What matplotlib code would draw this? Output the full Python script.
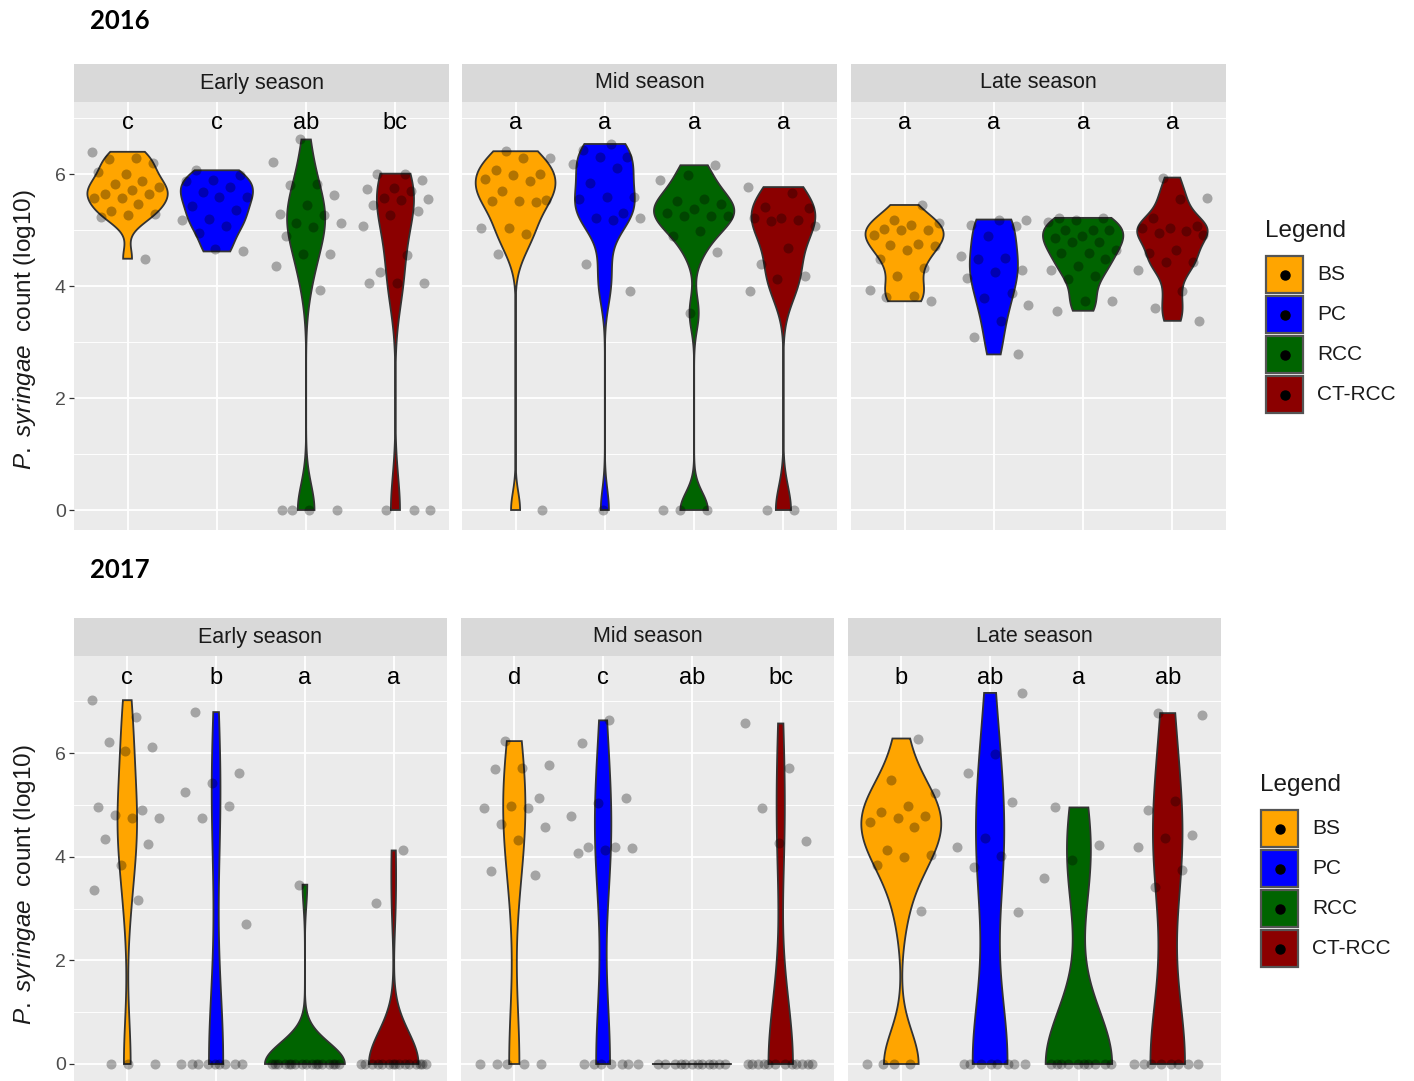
import numpy as np
import matplotlib.pyplot as plt
from matplotlib.patches import Rectangle

plt.rcParams['font.family'] = ['Liberation Sans', 'DejaVu Sans']
plt.rcParams['mathtext.fontset'] = 'custom'
plt.rcParams['mathtext.it'] = 'Liberation Sans:italic'
plt.rcParams['mathtext.rm'] = 'Liberation Sans'

groups = ['BS', 'PC', 'RCC', 'CT-RCC']
seasons = ['Early season', 'Mid season', 'Late season']

bs_2016_early = [6.40, 6.29, 6.27, 6.20, 6.01, 6.04, 5.88, 5.83, 5.77, 5.72, 5.64, 5.64,
                 5.57, 5.58, 5.46, 5.34, 5.28, 5.27, 5.23, 4.49]
pc_2016_early = [6.07, 5.98, 5.89, 5.88, 5.77, 5.68, 5.59, 5.59, 5.44, 5.36, 5.20, 5.18,
                 5.07, 4.95, 4.62, 4.67]
rcc_2016_early = [6.62, 6.22, 5.82, 5.80, 5.62, 5.45, 5.28, 5.27, 5.13, 5.12, 5.05, 4.90,
                  4.58, 4.58, 4.36, 3.93, 0, 0, 0, 0]
ct_2016_early = [6.01, 6.01, 5.89, 5.76, 5.73, 5.70, 5.57, 5.55, 5.54, 5.45, 5.34, 5.27,
                 5.07, 4.56, 4.25, 4.06, 4.06, 4.06, 0, 0, 0]

bs_2016_mid = [6.41, 6.29, 6.29, 6.07, 6.00, 5.98, 5.91, 5.88, 5.70, 5.54, 5.52, 5.52,
               5.50, 5.04, 5.04, 4.94, 4.58, 0]
pc_2016_mid = [6.54, 6.43, 6.31, 6.31, 6.19, 6.11, 5.85, 5.59, 5.59, 5.55, 5.31, 5.22,
               5.21, 5.19, 4.40, 3.92, 0]
rcc_2016_mid = [6.16, 5.98, 5.89, 5.55, 5.52, 5.46, 5.37, 5.31, 5.26, 5.26, 5.25, 4.99,
                4.89, 4.61, 3.52, 0, 0, 0]
ct_2016_mid = [5.77, 5.67, 5.42, 5.40, 5.22, 5.22, 5.18, 5.16, 5.07, 4.68, 4.40, 4.18,
               4.13, 3.91, 0, 0]

bs_2016_late = [5.45, 5.18, 5.12, 5.10, 5.02, 5.01, 5.01, 4.92, 4.76, 4.74, 4.71, 4.64,
                4.48, 4.33, 4.19, 3.93, 3.83, 3.80, 3.73]
pc_2016_late = [5.19, 5.19, 5.10, 5.07, 4.90, 4.53, 4.50, 4.48, 4.28, 4.25, 4.15, 3.88,
                3.79, 3.67, 3.38, 3.09, 2.78]
rcc_2016_late = [5.22, 5.22, 5.18, 5.14, 5.00, 5.00, 5.01, 4.90, 4.86, 4.79, 4.79, 4.64,
                 4.59, 4.59, 4.48, 4.36, 4.29, 4.19, 4.12, 3.74, 3.74, 3.56]
ct_2016_late = [5.94, 5.57, 5.56, 5.22, 5.08, 5.04, 5.04, 4.98, 4.95, 4.92, 4.65, 4.59,
                4.43, 4.43, 4.28, 3.91, 3.61, 3.38]

bs_2017_early = [7.02, 6.69, 6.21, 6.11, 6.03, 4.96, 4.91, 4.81, 4.75, 4.75, 4.35, 4.25,
                 3.83, 3.36, 3.16, 0, 0, 0]
pc_2017_early = [6.79, 5.61, 5.43, 5.24, 4.98, 4.75, 2.70, 0, 0, 0, 0, 0, 0, 0, 0, 0]
rcc_2017_early = [3.46] + [0] * 17
ct_2017_early = [4.12, 3.11] + [0] * 15

bs_2017_mid = [6.23, 5.77, 5.71, 5.69, 5.13, 4.97, 4.94, 4.94, 4.64, 4.57, 4.32, 3.73,
               3.65, 0, 0, 0, 0, 0]
pc_2017_mid = [6.63, 6.19, 5.13, 5.04, 4.79, 4.19, 4.19, 4.17, 4.12, 4.07, 0, 0, 0, 0,
               0, 0, 0]
rcc_2017_mid = [0] * 12
ct_2017_mid = [6.57, 5.72, 4.93, 4.31, 4.26] + [0] * 12

bs_2017_late = [6.28, 5.47, 5.23, 4.98, 4.86, 4.78, 4.75, 4.67, 4.57, 4.12, 4.04, 3.99,
                3.83, 2.96, 0, 0, 0, 0]
pc_2017_late = [7.16, 5.99, 5.61, 5.05, 4.37, 4.19, 4.01, 3.81, 2.93, 0, 0, 0, 0, 0, 0, 0, 0]
rcc_2017_late = [4.95, 4.22, 3.94, 3.59] + [0] * 10
ct_2017_late = [6.77, 6.74, 5.08, 4.91, 4.41, 4.36, 4.19, 3.75, 3.41, 0, 0, 0, 0, 0, 0, 0, 0]

letters_2016 = [['c', 'c', 'ab', 'bc'], ['a', 'a', 'a', 'a'], ['a', 'a', 'a', 'a']]
letters_2017 = [['c', 'b', 'a', 'a'], ['d', 'c', 'ab', 'bc'], ['b', 'ab', 'a', 'ab']]

data_2016 = [[bs_2016_early, pc_2016_early, rcc_2016_early, ct_2016_early],
             [bs_2016_mid, pc_2016_mid, rcc_2016_mid, ct_2016_mid],
             [bs_2016_late, pc_2016_late, rcc_2016_late, ct_2016_late]]
data_2017 = [[bs_2017_early, pc_2017_early, rcc_2017_early, ct_2017_early],
             [bs_2017_mid, pc_2017_mid, rcc_2017_mid, ct_2017_mid],
             [bs_2017_late, pc_2017_late, rcc_2017_late, ct_2017_late]]

colors = ['#FFA500', '#0000FF', '#006400', '#8B0000']
W, H = 1414, 1081


def nrd0(x):
    hi = np.std(x, ddof=1)
    q75, q25 = np.percentile(x, [75, 25])
    lo = min(hi, (q75 - q25) / 1.34)
    if not lo:
        lo = hi or abs(x[0]) or 1.0
    return 0.9 * lo * len(x) ** -0.2


def kde(vals):
    x = np.asarray(vals, float)
    bw = nrd0(x)
    grid = np.linspace(x.min(), x.max(), 512)
    d = np.exp(-0.5 * ((grid[:, None] - x[None, :]) / bw) ** 2).sum(1)
    return grid, d / (len(x) * bw * np.sqrt(2 * np.pi))


fig = plt.figure(figsize=(W / 100, H / 100), dpi=100)


def px_axes(x0, x1, y0, y1, **kw):
    return fig.add_axes([x0 / W, 1 - y1 / H, (x1 - x0) / W, (y1 - y0) / H], **kw)


rows = [
    dict(data=data_2016, letters=letters_2016, xs=[(74, 449), (462, 837), (851, 1226)],
         strip=(64, 102), panel=(102, 530), ylim=(-0.357, 7.29), ly=6.91),
    dict(data=data_2017, letters=letters_2017, xs=[(74, 447), (461, 834), (848, 1221)],
         strip=(618, 656), panel=(656, 1081), ylim=(-0.328, 7.872), ly=7.45),
]

for row in rows:
    for k, (x0, x1) in enumerate(row['xs']):
        # strip
        sa = px_axes(x0, x1, row['strip'][0], row['strip'][1])
        sa.set_facecolor('#D9D9D9')
        sa.set_xticks([]); sa.set_yticks([])
        for s in sa.spines.values():
            s.set_visible(False)
        sa.text(0.5, 0.5, seasons[k], ha='center', va='center', fontsize=15.5,
                color='#1A1A1A', transform=sa.transAxes)

        ax = px_axes(x0, x1, row['panel'][0], row['panel'][1])
        ax.set_facecolor('#EBEBEB')
        for s in ax.spines.values():
            s.set_visible(False)
        ax.set_xlim(0.4, 4.6)
        ax.set_ylim(*row['ylim'])
        ax.set_xticks([1, 2, 3, 4])
        ax.set_xticklabels([])
        ax.set_yticks([0, 2, 4, 6])
        ax.set_yticks([1, 3, 5, 7], minor=True)
        ax.set_axisbelow(True)
        ax.grid(which='major', color='white', lw=1.3)
        ax.grid(which='minor', axis='y', color='white', lw=0.65)
        ax.tick_params(axis='x', length=0)
        ax.tick_params(axis='y', which='minor', length=0)
        if k == 0:
            ax.tick_params(axis='y', which='major', length=3.5, width=0.9, color='#333333',
                           labelsize=14, labelcolor='#4D4D4D', pad=2.5)
        else:
            ax.tick_params(axis='y', which='major', length=0, labelleft=False)

        panel = row['data'][k]
        dens = [kde(v) for v in panel]
        dmax = max(d.max() for _, d in dens)
        for i, (vals, (grid, d)) in enumerate(zip(panel, dens)):
            pos = i + 1
            hw = 0.45 * d / dmax
            ax.fill(np.r_[pos - hw, (pos + hw)[::-1]], np.r_[grid, grid[::-1]],
                    fc=colors[i], ec='#333333', lw=1.3, zorder=2)
            n = len(vals)
            jit = ((np.arange(n) * 0.618034 + 0.21 * i + 0.37 * k) % 1.0 - 0.5) * 0.8
            ax.scatter(pos + jit, vals, s=52, c='black', alpha=0.3, lw=0, zorder=3)
            ax.text(pos, row['ly'], row['letters'][k][i], ha='center', va='center',
                    fontsize=17, color='black', zorder=4)

# ---- overlay: titles, y labels, legends ----
ov = fig.add_axes([0, 0, 1, 1], facecolor='none')
ov.set_xlim(0, W); ov.set_ylim(H, 0); ov.axis('off')

ov.text(90, 21, '2016', fontsize=18.5, fontweight='bold', family=['Lato', 'DejaVu Sans'],
        ha='left', va='center')
ov.text(90, 570, '2017', fontsize=18.5, fontweight='bold', family=['Lato', 'DejaVu Sans'],
        ha='left', va='center')

ylabel = r'$\mathit{P.\ syringae}$  count (log10)'
ov.text(25, 330, ylabel, rotation=90, fontsize=17.5, color='#1A1A1A', ha='center', va='center')
ov.text(25, 885, ylabel, rotation=90, fontsize=17.5, color='#1A1A1A', ha='center', va='center')

legends = [dict(tx=1265, ty=231, bx=1266, by=256, bw=37, step=40, lx=1317),
           dict(tx=1260, ty=785, bx=1261, by=810, bw=37, step=40, lx=1312)]
for lg in legends:
    ov.text(lg['tx'], lg['ty'], 'Legend', fontsize=17.5, color='#1A1A1A',
            ha='left', va='center')
    for i, g in enumerate(groups):
        y0 = lg['by'] + i * lg['step']
        ov.add_patch(Rectangle((lg['bx'], y0), lg['bw'], lg['bw'], fc=colors[i],
                               ec='#555555', lw=1.6))
        ov.plot(lg['bx'] + lg['bw'] / 2, y0 + lg['bw'] / 2, 'o', color='black', ms=6.5)
        ov.text(lg['lx'], y0 + lg['bw'] / 2, g, fontsize=15, color='#1A1A1A',
                ha='left', va='center')

fig.savefig('out.png', dpi=100)
